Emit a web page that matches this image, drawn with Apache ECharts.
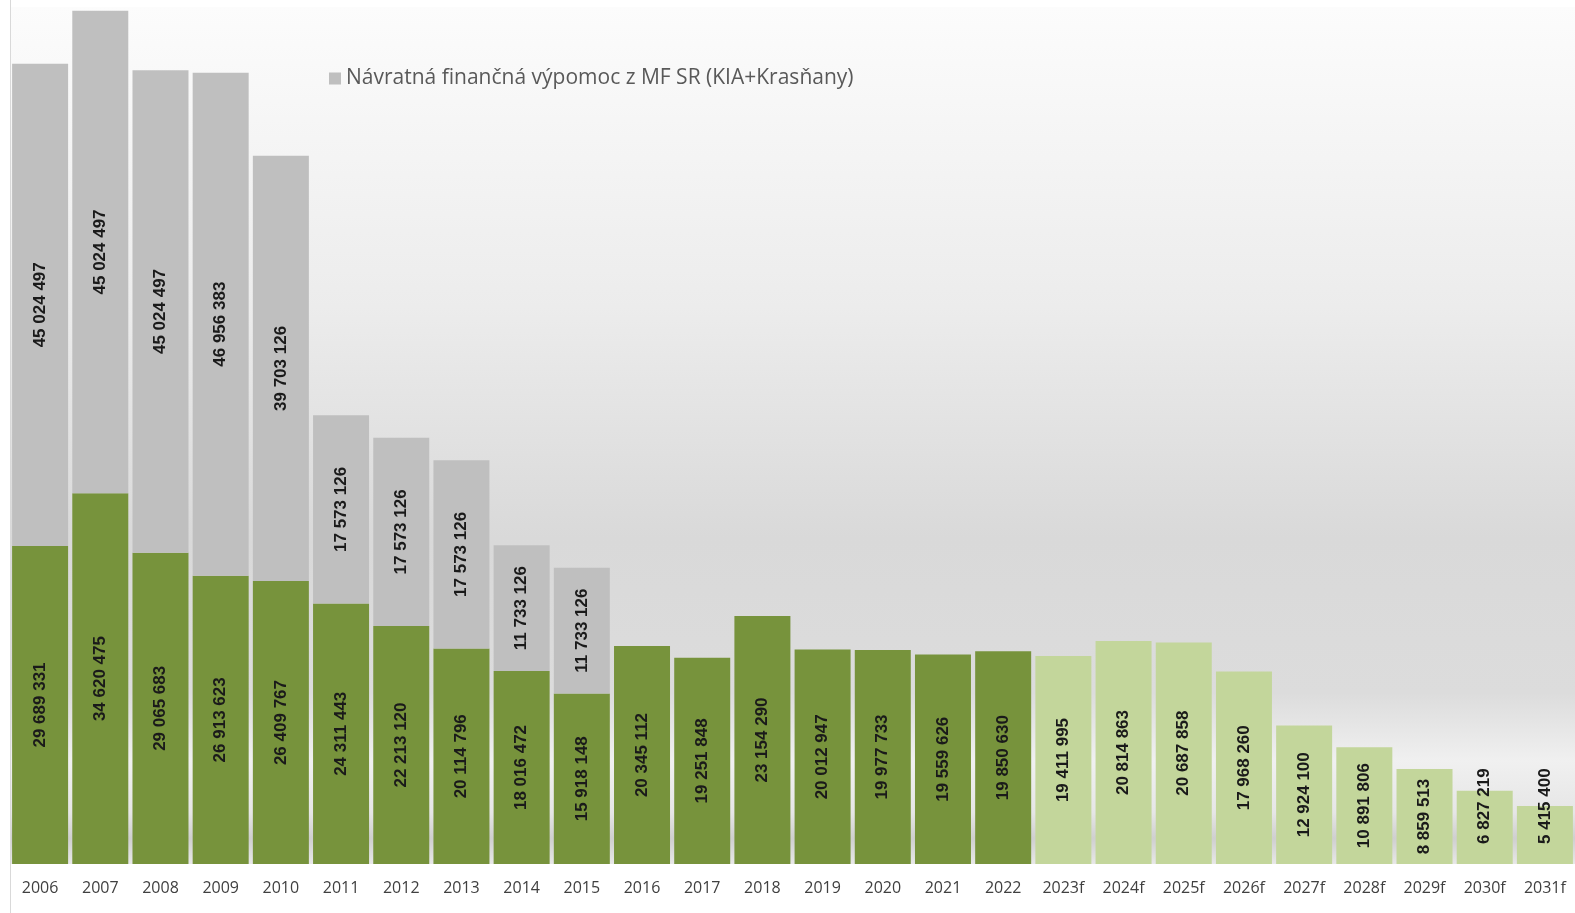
<!DOCTYPE html>
<html>
<head>
<meta charset="utf-8">
<script src="https://cdn.jsdelivr.net/npm/echarts@6/dist/echarts.min.js"></script>
<style>
  html, body { margin: 0; padding: 0; background: #ffffff; }
  #chart { width: 1575px; height: 913px; }
</style>
</head>
<body>
<div id="chart"></div>
<script>
var categories = ['2006', '2007', '2008', '2009', '2010', '2011', '2012', '2013', '2014', '2015',
    '2016', '2017', '2018', '2019', '2020', '2021', '2022',
    '2023f', '2024f', '2025f', '2026f', '2027f', '2028f', '2029f', '2030f', '2031f'];

var ownFunds = [29689331, 34620475, 29065683, 26913623, 26409767, 24311443, 22213120, 20114796, 18016472, 15918148,
    20345112, 19251848, 23154290, 20012947, 19977733, 19559626, 19850630,
    19411995, 20814863, 20687858, 17968260, 12924100, 10891806, 8859513, 6827219, 5415400];

var loanMF = [45024497, 45024497, 45024497, 46956383, 39703126, 17573126, 17573126, 17573126, 11733126, 11733126,
    null, null, null, null, null, null, null,
    null, null, null, null, null, null, null, null, null];

var loanName = 'Návratná finančná výpomoc z MF SR (KIA+Krasňany)';
var ownName = 'Vlastné zdroje';

// below this value the rotated label no longer fits inside the bar
var minFitValue = 8000000;

function fmt(v) {
    return String(v).replace(/\B(?=(\d{3})+(?!\d))/g, ' ');
}

var ownData = ownFunds.map(function (v, i) {
    var forecast = categories[i].slice(-1) === 'f';
    var item = { value: v, itemStyle: { color: forecast ? '#c3d69b' : '#77933c' } };
    if (v < minFitValue) {
        // label starts a bit above the base and runs out of the short bar
        item.label = { position: 'insideBottom', align: 'left', verticalAlign: 'middle', distance: 20 };
    }
    return item;
});

var labelStyle = {
    show: true,
    position: 'inside',
    rotate: 90,
    fontFamily: 'Liberation Sans',
    fontWeight: 'bold',
    fontSize: 17,
    color: '#1a1a1a',
    formatter: function (p) { return fmt(p.value); }
};

var chart = echarts.init(document.getElementById('chart'), null, { renderer: 'canvas' });

chart.setOption({
    animation: false,
    backgroundColor: '#ffffff',
    grid: {
        left: 10,
        width: 1571,
        top: 7,
        bottom: 49,
        show: true,
        borderWidth: 0,
        backgroundColor: {
            type: 'linear', x: 0, y: 0, x2: 0, y2: 1,
            colorStops: [
                { offset: 0, color: '#fcfcfc' },
                { offset: 0.35, color: '#ececec' },
                { offset: 0.62, color: '#d9d9d9' },
                { offset: 0.8, color: '#dcdcdc' },
                { offset: 0.88, color: '#f0f0f0' },
                { offset: 0.94, color: '#e6e6e6' },
                { offset: 0.97, color: '#cfcfcf' },
                { offset: 1, color: '#e8e8e8' }
            ]
        }
    },
    legend: {
        data: [loanName],
        left: 324,
        top: 63,
        icon: 'rect',
        itemWidth: 12,
        itemHeight: 12,
        itemGap: 8,
        textStyle: { fontFamily: 'Open Sans', fontSize: 21, color: '#595959' }
    },
    xAxis: {
        type: 'category',
        data: categories,
        axisLine: { show: false },
        axisTick: { show: false },
        axisLabel: {
            margin: 16,
            fontFamily: 'Open Sans',
            fontSize: 16,
            color: '#404040',
            interval: 0
        }
    },
    yAxis: {
        type: 'value',
        min: 0,
        max: 80000000,
        show: false,
        splitLine: { show: false }
    },
    graphic: [{
        type: 'line',
        shape: { x1: 10.5, y1: 0, x2: 10.5, y2: 913 },
        style: { stroke: '#d9d9d9', lineWidth: 1 }
    }],
    series: [
        {
            name: ownName,
            type: 'bar',
            stack: 'total',
            barWidth: 56,
            data: ownData,
            label: labelStyle
        },
        {
            name: loanName,
            type: 'bar',
            stack: 'total',
            barWidth: 56,
            itemStyle: { color: '#bfbfbf' },
            data: loanMF,
            label: labelStyle
        }
    ]
});
</script>
</body>
</html>
